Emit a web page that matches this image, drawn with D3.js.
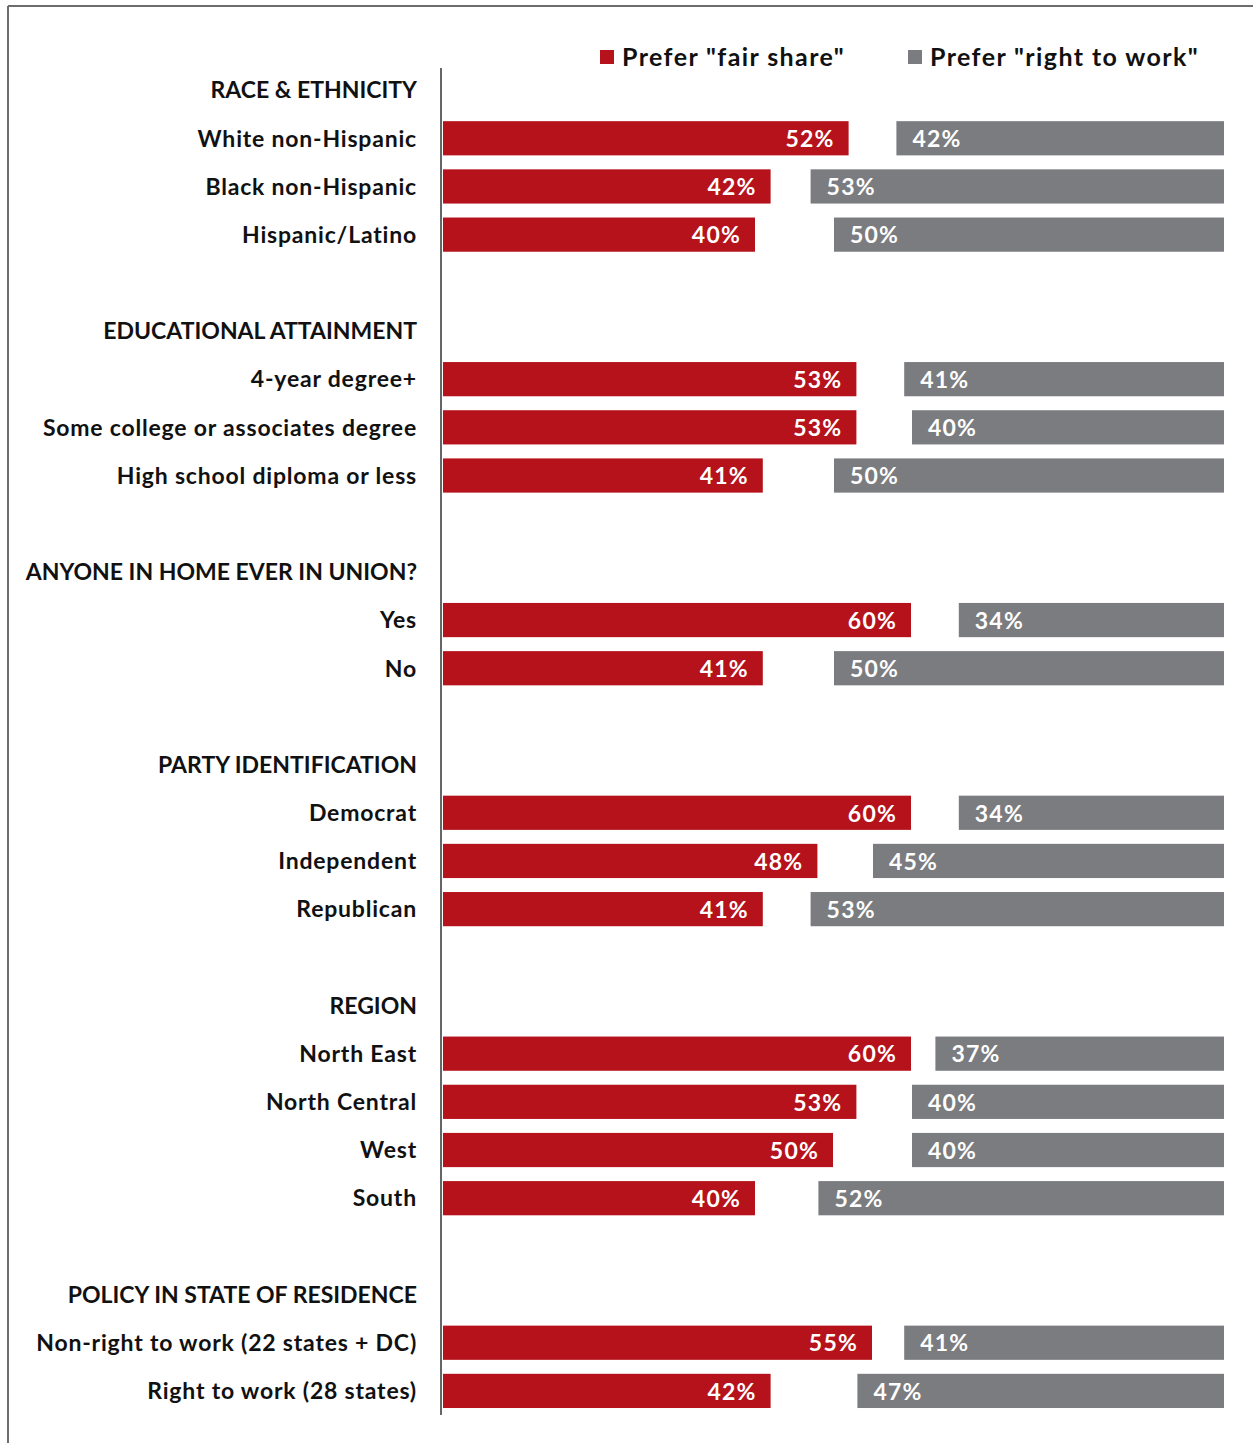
<!DOCTYPE html>
<html><head><meta charset="utf-8">
<script src="https://cdn.jsdelivr.net/npm/d3@7"></script>
<style>
html,body{margin:0;padding:0;background:#fff;}
svg{display:block;}
text{font-family:Lato,"Open Sans",sans-serif;font-weight:700;}
</style></head>
<body>
<svg id="chart" width="1253" height="1443"></svg>
<script>
const rowLabels = [
  "RACE & ETHNICITY","White non-Hispanic","Black non-Hispanic","Hispanic/Latino","",
  "EDUCATIONAL ATTAINMENT","4-year degree+","Some college or associates degree","High school diploma or less","",
  "ANYONE IN HOME EVER IN UNION?","Yes","No","",
  "PARTY IDENTIFICATION","Democrat","Independent","Republican","",
  "REGION","North East","North Central","West","South","",
  "POLICY IN STATE OF RESIDENCE","Non-right to work (22 states + DC)","Right to work (28 states)"
];
const groupHeaders = ["RACE & ETHNICITY","EDUCATIONAL ATTAINMENT","ANYONE IN HOME EVER IN UNION?","PARTY IDENTIFICATION","REGION","POLICY IN STATE OF RESIDENCE"];
const categories = [
  "White non-Hispanic","Black non-Hispanic","Hispanic/Latino",
  "4-year degree+","Some college or associates degree","High school diploma or less",
  "Yes","No",
  "Democrat","Independent","Republican",
  "North East","North Central","West","South",
  "Non-right to work (22 states + DC)","Right to work (28 states)"
];
const fairShare   = [52,42,40, 53,53,41, 60,41, 60,48,41, 60,53,50,40, 55,42];
const rightToWork = [42,53,50, 41,40,50, 34,50, 34,45,53, 37,40,40,52, 41,47];
const seriesNames = ['Prefer "fair share"','Prefer "right to work"'];
const colors = ["#B5121B","#7B7C80"];

const svg = d3.select("#chart");
const rowKeys = rowLabels.map((d,i)=>i);
const y = d3.scaleBand().domain(rowKeys).range([66,1415]).paddingInner(0.29).paddingOuter(0.145);
const x = d3.scaleLinear().domain([0,100]).range([0,780]);
const x0 = 443, xEnd = 1224;

svg.append("line").attr("x1",8).attr("x2",8).attr("y1",6).attr("y2",1443).attr("stroke","#6d6d6d").attr("stroke-width",2);
svg.append("line").attr("x1",8).attr("x2",1253).attr("y1",6).attr("y2",6).attr("stroke","#6d6d6d").attr("stroke-width",2);

const rowIndex = {};
rowLabels.forEach((l,i)=>{ if(l && !(l in rowIndex)) rowIndex[l]=i; });
svg.append("g").selectAll("text").data(rowKeys.filter(i=>rowLabels[i]!=="")).join("text")
  .attr("x",417).attr("y",i=>y(i)+y.bandwidth()/2).attr("dy","0.36em")
  .attr("text-anchor","end").attr("font-size",23)
  .attr("letter-spacing",i=>groupHeaders.includes(rowLabels[i])?0:0.8).attr("fill","#111")
  .text(i=>rowLabels[i]);

const data = categories.map((c,i)=>({c,fs:fairShare[i],rw:rightToWork[i],row:rowIndex[c]}));

svg.append("g").selectAll("rect").data(data).join("rect")
  .attr("x",x0).attr("y",d=>y(d.row)).attr("height",y.bandwidth())
  .attr("width",d=>x(d.fs)).attr("fill",colors[0]);
svg.append("g").selectAll("text").data(data).join("text")
  .attr("x",d=>x0+x(d.fs)-14).attr("y",d=>y(d.row)+y.bandwidth()/2).attr("dy","0.38em")
  .attr("text-anchor","end").attr("font-size",23).attr("letter-spacing",1.2).attr("fill","#fff")
  .text(d=>d.fs+"%");

svg.append("g").selectAll("rect").data(data).join("rect")
  .attr("x",d=>xEnd-x(d.rw)).attr("y",d=>y(d.row)).attr("height",y.bandwidth())
  .attr("width",d=>x(d.rw)).attr("fill",colors[1]);
svg.append("g").selectAll("text").data(data).join("text")
  .attr("x",d=>xEnd-x(d.rw)+16).attr("y",d=>y(d.row)+y.bandwidth()/2).attr("dy","0.38em")
  .attr("text-anchor","start").attr("font-size",23).attr("letter-spacing",1.2).attr("fill","#fff")
  .text(d=>d.rw+"%");

svg.append("line").attr("x1",441).attr("x2",441).attr("y1",68).attr("y2",1415).attr("stroke","#666").attr("stroke-width",2);

const lg = svg.append("g");
const lx = [600,908];
seriesNames.forEach((s,i)=>{
  lg.append("rect").attr("x",lx[i]).attr("y",50).attr("width",14).attr("height",14).attr("fill",colors[i]);
  lg.append("text").attr("x",lx[i]+22).attr("y",57).attr("dy","0.36em").attr("font-size",25).attr("font-weight",700).attr("letter-spacing",1.4).attr("fill","#111").text(s);
});
</script>
</body></html>
